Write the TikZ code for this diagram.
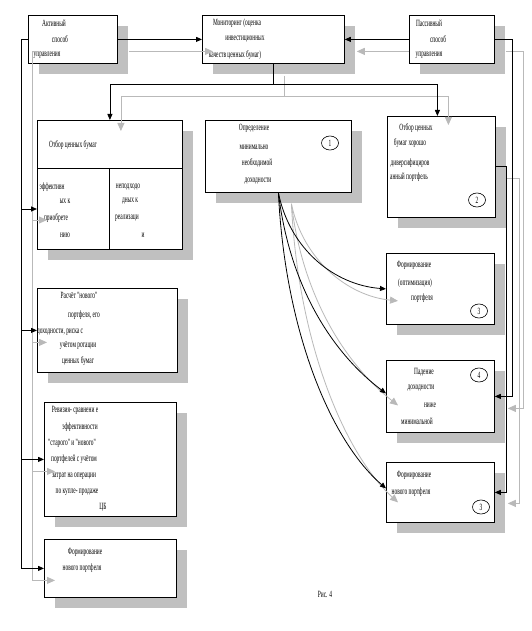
\documentclass[tikz,border=0pt]{standalone}
\usepackage{fontspec}
\setmainfont{Liberation Serif}
\newfontfamily\cf[FakeStretch=0.57]{Liberation Serif}
\usetikzlibrary{arrows.meta,shapes.geometric,shadows,calc}
\definecolor{shc}{RGB}{192,192,192}
\definecolor{glc}{RGB}{185,185,185}
\tikzset{
 box/.style={draw=black, line width=0.8pt, fill=white, anchor=north west, inner sep=0pt,
   drop shadow={shadow xshift=11pt,shadow yshift=-11pt,fill=shc,opacity=1}},
 tx/.style={font=\cf\fontsize{9.5}{10}\selectfont, inner sep=0pt, text=black},
 num/.style={draw, ellipse, line width=0.6pt, minimum width=17pt, minimum height=14pt, inner sep=0pt, font=\cf\fontsize{9.5}{10}\selectfont},
 blk/.style={draw=black, line width=0.8pt},
 ba/.style={blk, -{Triangle[length=6pt,width=5pt]}},
 gry/.style={draw=glc, line width=0.8pt},
 ga/.style={gry, -{Triangle[length=8pt,width=7pt,fill=glc]}},
}
\begin{document}
\begin{tikzpicture}[x=1pt,y=-1pt]
\useasboundingbox[fill=white] (0,0) rectangle (532,631);
% boxes
\node[box, minimum width=89pt, minimum height=48pt] (A) at (28,15) {};
\node[box, minimum width=142pt, minimum height=48pt] (M) at (202,15) {};
\node[box, minimum width=85pt, minimum height=48pt] (P) at (409,15) {};
\node[box, minimum width=145pt, minimum height=129pt] (L1) at (37,120) {};
\node[box, minimum width=146pt, minimum height=72pt] (B1) at (205,120) {};
\node[box, minimum width=108pt, minimum height=101pt] (B2) at (387,116) {};
\node[box, minimum width=108pt, minimum height=71pt] (B3) at (386,253) {};
\node[box, minimum width=108pt, minimum height=72pt] (B4) at (386,360) {};
\node[box, minimum width=108pt, minimum height=60pt] (B5) at (386,462) {};
\node[box, minimum width=140pt, minimum height=84pt] (L2) at (37,288) {};
\node[box, minimum width=132pt, minimum height=114pt] (L3) at (44,402) {};
\node[box, minimum width=132pt, minimum height=58pt] (L4) at (44,539) {};
% dividers in L1
\coordinate (dv) at (109,168);
\draw[blk] (L1.west |- dv) -- (L1.east |- dv);
\draw[blk] (dv) -- (dv |- L1.south);
% texts
\node[tx] (a1) at (54,23) {Активный};
\node[tx] (a2) at (60,39) {способ};
\node[tx] (a3) at (47,55) {управления};
\node[tx] (m1) at (237,23) {Мониторинг (оценка};
\node[tx] (m2) at (245,39) {инвестиционных};
\node[tx] (m3) at (235,55) {качеств ценных бумаг)};
\node[tx] (p1) at (429,23) {Пассивный};
\node[tx] (p2) at (438,39) {способ};
\node[tx] (p3) at (429,55) {управления};
\node[tx] (l11) at (73,145) {Отбор ценных бумаг};
\node[tx] (l12) at (52,187) {эффективн};
\node[tx] (l13) at (65,201) {ых к};
\node[tx] (l14) at (56,218) {приобрете};
\node[tx] (l15) at (65,235) {нию};
\node[tx] (l16) at (128,187) {неподходо};
\node[tx] (l17) at (130,201) {дных к};
\node[tx] (l18) at (127,218) {реализаци};
\node[tx] (l19) at (143,235) {и};
\node[tx] (b11) at (254,128) {Определение};
\node[tx] (b12) at (254,147) {минимально};
\node[tx] (b13) at (257,163) {необходимой};
\node[tx] (b14) at (258,181) {доходности};
\node[tx] (b21) at (416,128) {Отбор ценных};
\node[tx] (b22) at (410,143) {бумаг хорошо};
\node[tx] (b23) at (410,163) {диверсифициров};
\node[tx] (b24) at (409,177) {анный портфель};
\node[tx] (b31) at (414,265) {Формирование};
\node[tx] (b32) at (415,283) {(оптимизация)};
\node[tx] (b33) at (422,298) {портфеля};
\node[tx] (b41) at (424,372) {Падение};
\node[tx] (b42) at (421,388) {доходности};
\node[tx] (b43) at (430,405) {ниже};
\node[tx] (b44) at (417,421) {минимальной};
\node[tx] (b51) at (414,475) {Формирование};
\node[tx] (b52) at (411,492) {нового портфеля};
\node[tx] (l21) at (79,295) {Расчёт "нового"};
\node[tx] (l22) at (84,315) {портфеля, его};
\node[tx] (l23) at (60,332) {доходности, риска с};
\node[tx] (l24) at (78,346) {учётом ротации};
\node[tx] (l25) at (78,361) {ценных бумаг};
\node[tx] (l31) at (75,410) {Ревизия- сравнени е};
\node[tx] (l32) at (80,427) {эффективности};
\node[tx] (l33) at (72,443) {"старого" и "нового"};
\node[tx] (l34) at (74,459) {портфелей с учётом};
\node[tx] (l35) at (74,476) {затрат на операции};
\node[tx] (l36) at (77,492) {по купле- продаже};
\node[tx] (l37) at (103,507) {ЦБ};
\node[tx] (l41) at (85,552) {Формирование};
\node[tx] (l42) at (82,568) {нового портфеля};
\node[tx] (fig) at (325,594) {Рис. 4};
% numbers
\node[num] (n1) at (330,143) {1};
\node[num] (n2) at (477,200) {2};
\node[num] (n3) at (479,311) {3};
\node[num] (n4) at (479,375) {4};
\node[num] (n5) at (481,507) {3};
% gray connectors
\draw[ga] ($(A.east)+(11,12)$) -- ($(M.west)+(11,12)$);
\draw[ga] ($(P.west)+(0,12)$) -- ($(M.east)+(12,12)$);
\coordinate (jM) at ($(M.south)+(0,21)$);
\coordinate (gjM) at ($(jM)+(11,12)$);
\draw[gry] ($(M.south)+(11,12)$) -- (gjM);
\draw[ga] (gjM) -| ($(L1.north)+(11,11)$);
\draw[ga] (gjM) -| ($(B2.north)+(7,9)$);
\coordinate (lt) at ($(A.west)+(-7,0)$);
\coordinate (glt) at ($(lt)+(11,12)$);
\draw[ga] ($(A.west)+(11,12)$) -- (glt) |- ($(L4.west)+(11,12)$);
\draw[ga] (glt |- 0,220) -- ($(L1.west |- 0,220)+(10,0)$);
\draw[ga] ($(glt |- L2.west)+(0,12)$) -- ($(L2.west)+(10,12)$);
\draw[ga] ($(glt |- L3.west)+(0,12)$) -- ($(L3.west)+(11,12)$);
\coordinate (rt) at ($(P.east)+(18,0)$);
\coordinate (grt) at ($(rt)+(11,12)$);
\draw[ga] ($(P.east)+(11,12)$) -- (grt) |- ($(B4.east)+(13,12)$);
\coordinate (r2) at ($(B2.east)+(11,0)$);
\coordinate (gr2) at ($(r2)+(13,11)$);
\draw[ga] ($(B2.east)+(11,11)$) -- (gr2) |- ($(B5.east)+(13,11)$);
\draw[ga] ($(B1.south)+(13,11)$) .. controls (303,260) and (348,296) .. ($(B3.west)+(12,12)$);
\draw[ga] ($(B1.south)+(13,11)$) .. controls (303,300) and (348,366) .. ($(B4.west)+(12,9)$);
\draw[ga] ($(B1.south)+(13,11)$) .. controls (298,340) and (343,452) .. ($(B5.west)+(12,10)$);
% black connectors
\draw[ba] (A.east) -- (M.west);
\draw[ba] (P.west) -- (M.east);
\draw[blk] (M.south) -- (jM);
\draw[ba] (jM) -| (L1.north);
\draw[ba] (jM) -| ($(B2.north)+(-4,0)$);
\draw[ba] (A.west) -- (lt) |- (L4.west);
\draw[ba] (lt |- 0,209) -- (L1.west |- 0,209);
\draw[ba] (lt |- L2.west) -- (L2.west);
\draw[ba] (lt |- L3.west) -- (L3.west);
\draw[ba] (P.east) -- (rt) |- (B4.east);
\draw[ba] (B2.east) -- (r2) |- (B5.east);
\draw[ba] (B1.south) .. controls (290,250) and (335,285) .. (B3.west);
\draw[ba] (B1.south) .. controls (290,290) and (335,355) .. ($(B4.west)+(0,-3)$);
\draw[ba] (B1.south) .. controls (285,330) and (330,440) .. ($(B5.west)+(0,-4)$);
\end{tikzpicture}
\end{document}
